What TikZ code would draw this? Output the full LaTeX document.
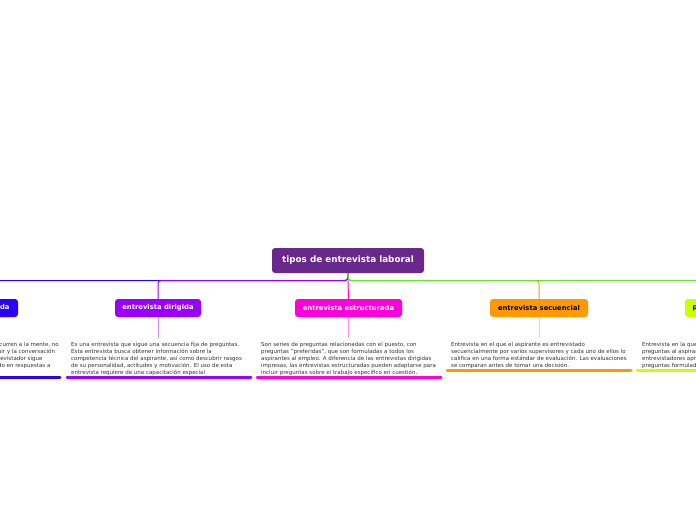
\documentclass[tikz,border=0pt]{standalone}
\usepackage{fontspec}
\setmainfont{DejaVu Sans}
\usetikzlibrary{calc}
\definecolor{rootc}{HTML}{68288C}
\definecolor{cblue}{HTML}{2A00FF}
\definecolor{cpurp}{HTML}{9900FF}
\definecolor{cmag}{HTML}{FF00DD}
\definecolor{corg}{HTML}{FF9900}
\definecolor{clime}{HTML}{CCFF00}
\definecolor{cgreen}{HTML}{66E62A}
\definecolor{txt}{HTML}{333333}
\tikzset{
  rootbox/.style={fill=rootc, rounded corners=3pt, text=white, font=\fontsize{8.8}{10}\selectfont\bfseries, minimum width=152pt, minimum height=25pt, inner sep=0pt},
  childbox/.style={fill=#1, rounded corners=3pt, font=\fontsize{6.8}{8}\selectfont\bfseries, minimum height=18pt, inner sep=0pt},
  desc/.style={anchor=north west, inner sep=0pt, align=left, text=txt, font=\fontsize{5.5}{7.2}\selectfont},
  branch/.style={draw=#1, line width=1pt, rounded corners=3pt},
  sub/.style={draw=#1!45, line width=1pt},
  uline/.style={draw=#1, line width=3pt, line cap=round},
}
\begin{document}
\begin{tikzpicture}[x=1pt,y=-1pt]
\useasboundingbox (0,0) rectangle (696,520);
\clip (0,0) rectangle (696,520);
\node[rootbox] (root) at (348,260.5) {tipos de entrevista laboral};
\coordinate (hub) at (348,280.5);
\node[childbox=cblue, text=white, minimum width=100pt] (c1) at (-32,308) {entrevista no dirigida};
\node[childbox=cpurp, text=white, minimum width=86pt] (c2) at (158,308) {entrevista dirigida};
\node[childbox=cmag, text=white, minimum width=107pt] (c3) at (348.5,308) {entrevista estructurada};
\node[childbox=corg, text=black, minimum width=98pt] (c4) at (539,308) {entrevista secuencial};
\node[childbox=clime, text=black, minimum width=90pt] (c5) at (730,308) {panel de entrevista};
% branches
\draw[branch=cblue] (root.south) -- (hub) -| (c1.north);
\draw[branch=corg] (root.south) -- (hub) -| (c4.north);
\draw[branch=cmag] (hub) -- (c3.north);
\draw[branch=cpurp] (root.south) -- (hub) -| (c2.north);
\draw[branch=cgreen] (root.south) -- (hub) -| (c5.north);
% descriptions
\node[desc] (d1) at (-120,341.8) {Consiste en hacer las preguntas tal como ocurren a la mente, no\\
hay un guion u orden preestablecido a seguir y la conversación\\
fluye de manera libre y espontánea. El entrevistador sigue\\
improvisando las nuevas preguntas y basado en respuestas a\\
las anteriores.};
\node[desc] (d2) at (71,341.8) {Es una entrevista que sigue una secuencia fija de preguntas.\\
Esta entrevista busca obtener información sobre la\\
competencia técnica del aspirante, así como descubrir rasgos\\
de su personalidad, actitudes y motivación. El uso de esta\\
entrevista requiere de una capacitación especial};
\node[desc] (d3) at (261,341.8) {Son series de preguntas relacionadas con el puesto, con\\
preguntas "preferidas", que son formuladas a todos los\\
aspirantes al empleo. A diferencia de las entrevistas dirigidas\\
impresas, las entrevistas estructuradas pueden adaptarse para\\
incluir preguntas sobre el trabajo específico en cuestión.};
\node[desc] (d4) at (451,341.8) {Entrevista en el que el aspirante es entrevistado\\
secuencialmente por varios supervisores y cada uno de ellos lo\\
califica en una forma estándar de evaluación. Las evaluaciones\\
se comparan antes de tomar una decisión.};
\node[desc] (d5) at (642,341.8) {Entrevista en la que un grupo de personas hace\\
preguntas al aspirante de forma conjunta. Los\\
entrevistadores aprueban o descalifican según las\\
preguntas formuladas.};
% sub connectors
\draw[sub=cpurp] (c2.south) -- ($(c2.south |- d2.north)+(0,-4)$) coordinate (e2);
\draw[sub=cmag] (c3.south) -- ($(c3.south |- d3.north)+(0,-4)$) coordinate (e3);
\draw[sub=corg] (c4.south) -- ($(c4.south |- d4.north)+(0,-4)$) coordinate (e4);
% underlines
\coordinate (u1a) at (-124,377); \coordinate (u1b) at (60,377);
\coordinate (u2a) at (67,377); \coordinate (u2b) at (251,377);
\coordinate (u3a) at (257,377); \coordinate (u3b) at (441,377);
\coordinate (u4a) at (447,370.5); \coordinate (u4b) at (631,370.5);
\coordinate (u5a) at (637,370.5); \coordinate (u5b) at (821,370.5);
\draw[uline=cblue] (u1a) -- (u1b);
\draw[uline=cpurp] (u2a) -- (u2b);
\draw[uline=cmag] (u3a) -- (u3b);
\draw[uline=corg] (u4a) -- (u4b);
\draw[uline=clime] (u5a) -- (u5b);
\end{tikzpicture}
\end{document}
